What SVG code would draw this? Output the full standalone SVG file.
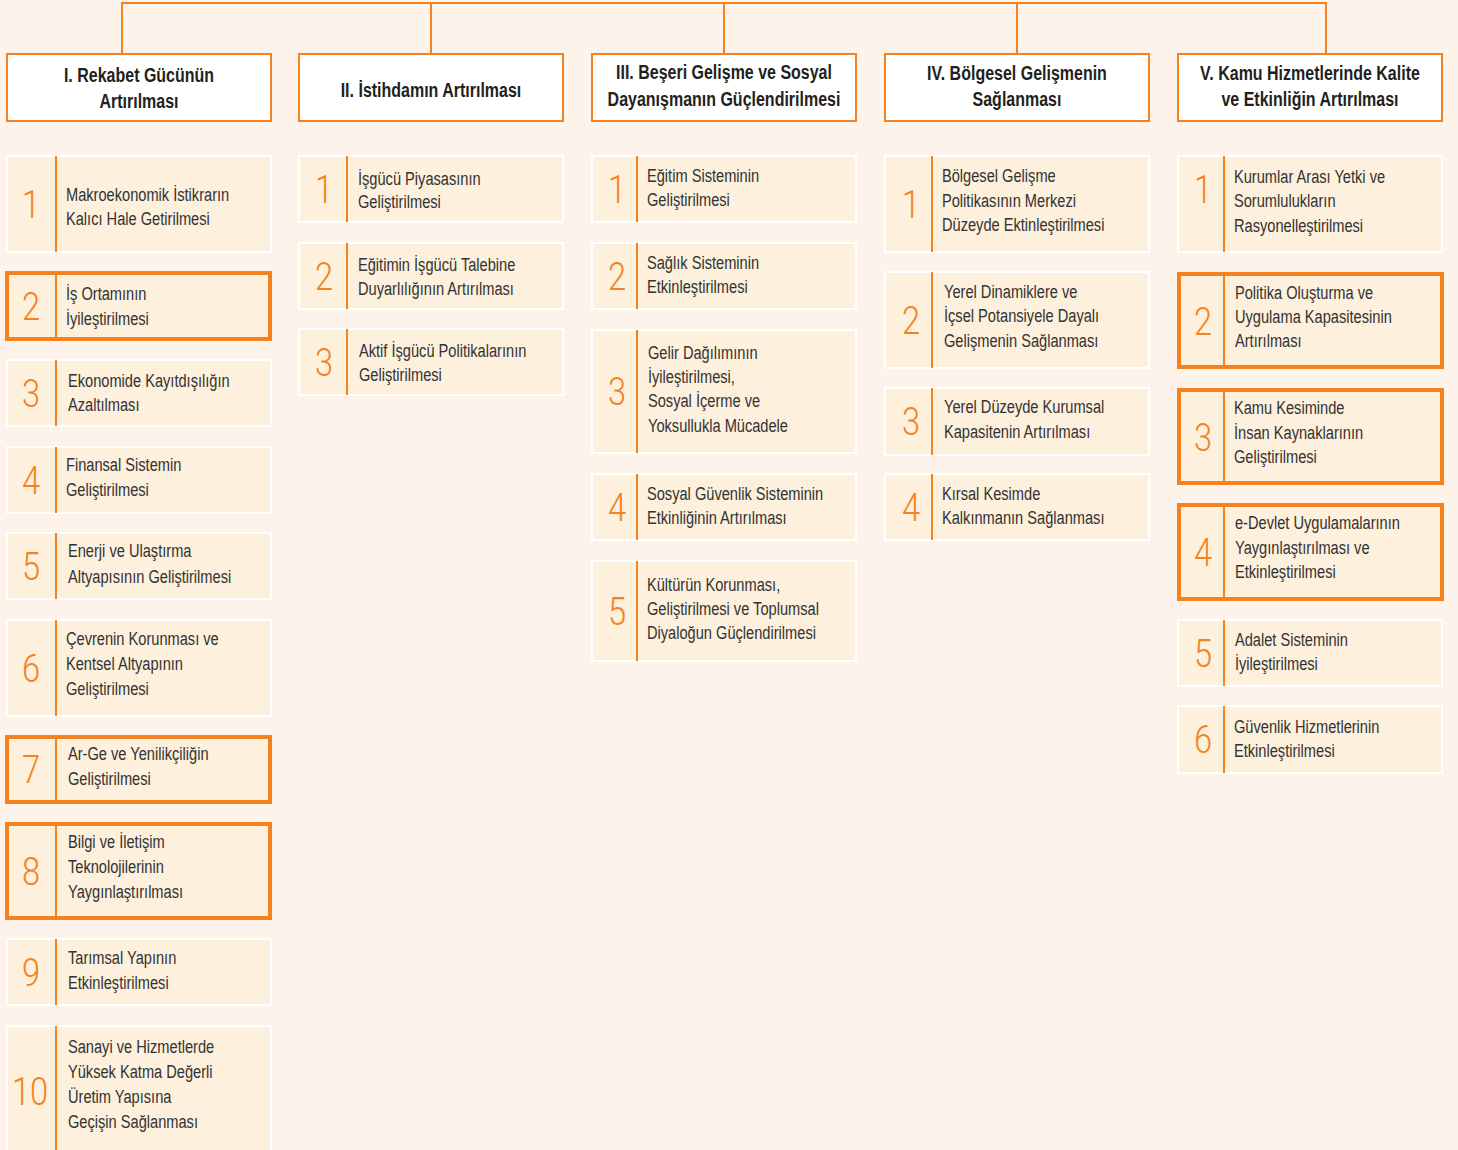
<svg xmlns="http://www.w3.org/2000/svg" width="1458" height="1150" viewBox="0 0 1458 1150">
<style>
.bg{fill:#FDF3EA}
.hdr rect{fill:#fff;stroke:#F58220;stroke-width:2}
.hdr text{font-family:"Liberation Sans",Arial,sans-serif;font-weight:bold;font-size:19.5px;fill:#231F20;text-anchor:middle;transform-box:fill-box;transform-origin:50% 50%;transform:scaleX(0.82)}
.item rect{fill:#FDF0DC;stroke:#fff;stroke-width:2}
.item.hl rect{stroke:#F58220;stroke-width:4}
.item line{stroke:#F58220;stroke-width:2}
.num{font-family:"Roboto","Liberation Sans",sans-serif;font-weight:300;font-size:38px;fill:#F58220;text-anchor:middle;transform-box:fill-box;transform-origin:50% 50%;transform:scaleX(0.86)}
.txt{font-family:"Liberation Sans",Arial,sans-serif;font-size:19px;fill:#333;transform-box:fill-box;transform-origin:0 50%;transform:scaleX(0.77)}
.conn{fill:none;stroke:#F58220;stroke-width:2}
</style>
<rect class="bg" x="0" y="0" width="1458" height="1150"/>
<g id="connectors">
<path class="conn" d="M122,54 V3 H1326 V54"/>
<path class="conn" d="M431,3 V54"/>
<path class="conn" d="M724,3 V54"/>
<path class="conn" d="M1017,3 V54"/>
</g>
<g id="h1" class="hdr"><rect x="7" y="54" width="264" height="67"/><text x="139" y="82">I. Rekabet Gücünün</text><text x="139" y="108">Artırılması</text></g>
<g id="h2" class="hdr"><rect x="299" y="54" width="264" height="67"/><text x="431" y="97">II. İstihdamın Artırılması</text></g>
<g id="h3" class="hdr"><rect x="592" y="54" width="264" height="67"/><text x="724" y="79">III. Beşeri Gelişme ve Sosyal</text><text x="724" y="106">Dayanışmanın Güçlendirilmesi</text></g>
<g id="h4" class="hdr"><rect x="885" y="54" width="264" height="67"/><text x="1017" y="80">IV. Bölgesel Gelişmenin</text><text x="1017" y="106">Sağlanması</text></g>
<g id="h5" class="hdr"><rect x="1178" y="54" width="264" height="67"/><text x="1310" y="80">V. Kamu Hizmetlerinde Kalite</text><text x="1310" y="106">ve Etkinliğin Artırılması</text></g>

<!-- Column 1 -->
<g id="c1i1" class="item"><rect x="7" y="156" width="264" height="96"/><line x1="56" y1="156" x2="56" y2="252"/><text class="num" x="31" y="218">1</text><text class="txt" x="66" y="201">Makroekonomik İstikrarın</text><text class="txt" x="66" y="225">Kalıcı Hale Getirilmesi</text></g>
<g id="c1i2" class="item hl"><rect x="7" y="273" width="263" height="66"/><line x1="56" y1="273" x2="56" y2="339"/><text class="num" x="31" y="320">2</text><text class="txt" x="66" y="300">İş Ortamının</text><text class="txt" x="66" y="325">İyileştirilmesi</text></g>
<g id="c1i3" class="item"><rect x="7" y="360" width="264" height="66"/><line x1="56" y1="360" x2="56" y2="426"/><text class="num" x="31" y="407">3</text><text class="txt" x="68" y="387">Ekonomide Kayıtdışılığın</text><text class="txt" x="68" y="411">Azaltılması</text></g>
<g id="c1i4" class="item"><rect x="7" y="447" width="264" height="66"/><line x1="56" y1="447" x2="56" y2="513"/><text class="num" x="31" y="494">4</text><text class="txt" x="66" y="471">Finansal Sistemin</text><text class="txt" x="66" y="496">Geliştirilmesi</text></g>
<g id="c1i5" class="item"><rect x="7" y="533" width="264" height="66"/><line x1="56" y1="533" x2="56" y2="599"/><text class="num" x="31" y="580">5</text><text class="txt" x="68" y="557">Enerji ve Ulaştırma</text><text class="txt" x="68" y="583">Altyapısının Geliştirilmesi</text></g>
<g id="c1i6" class="item"><rect x="7" y="620" width="264" height="96"/><line x1="56" y1="620" x2="56" y2="716"/><text class="num" x="31" y="682">6</text><text class="txt" x="66" y="645">Çevrenin Korunması ve</text><text class="txt" x="66" y="670">Kentsel Altyapının</text><text class="txt" x="66" y="695">Geliştirilmesi</text></g>
<g id="c1i7" class="item hl"><rect x="7" y="737" width="263" height="65"/><line x1="56" y1="737" x2="56" y2="802"/><text class="num" x="31" y="783">7</text><text class="txt" x="68" y="760">Ar-Ge ve Yenilikçiliğin</text><text class="txt" x="68" y="785">Geliştirilmesi</text></g>
<g id="c1i8" class="item hl"><rect x="7" y="824" width="263" height="94"/><line x1="56" y1="824" x2="56" y2="918"/><text class="num" x="31" y="885">8</text><text class="txt" x="68" y="848">Bilgi ve İletişim</text><text class="txt" x="68" y="873">Teknolojilerinin</text><text class="txt" x="68" y="898">Yaygınlaştırılması</text></g>
<g id="c1i9" class="item"><rect x="7" y="939" width="264" height="66"/><line x1="56" y1="939" x2="56" y2="1005"/><text class="num" x="31" y="986">9</text><text class="txt" x="68" y="964">Tarımsal Yapının</text><text class="txt" x="68" y="989">Etkinleştirilmesi</text></g>
<g id="c1i10" class="item"><rect x="7" y="1026" width="264" height="130"/><line x1="56" y1="1026" x2="56" y2="1150"/><text class="num" x="30" y="1105">10</text><text class="txt" x="68" y="1053">Sanayi ve Hizmetlerde</text><text class="txt" x="68" y="1078">Yüksek Katma Değerli</text><text class="txt" x="68" y="1103">Üretim Yapısına</text><text class="txt" x="68" y="1128">Geçişin Sağlanması</text></g>

<!-- Column 2 -->
<g id="c2i1" class="item"><rect x="299" y="156" width="264" height="66"/><line x1="347" y1="156" x2="347" y2="222"/><text class="num" x="324" y="203">1</text><text class="txt" x="358" y="185">İşgücü Piyasasının</text><text class="txt" x="358" y="208">Geliştirilmesi</text></g>
<g id="c2i2" class="item"><rect x="299" y="243" width="264" height="66"/><line x1="347" y1="243" x2="347" y2="309"/><text class="num" x="324" y="290">2</text><text class="txt" x="358" y="271">Eğitimin İşgücü Talebine</text><text class="txt" x="358" y="295">Duyarlılığının Artırılması</text></g>
<g id="c2i3" class="item"><rect x="299" y="329" width="264" height="66"/><line x1="347" y1="329" x2="347" y2="395"/><text class="num" x="324" y="376">3</text><text class="txt" x="359" y="357">Aktif İşgücü Politikalarının</text><text class="txt" x="359" y="381">Geliştirilmesi</text></g>

<!-- Column 3 -->
<g id="c3i1" class="item"><rect x="592" y="156" width="264" height="66"/><line x1="637" y1="156" x2="637" y2="222"/><text class="num" x="617" y="203">1</text><text class="txt" x="647" y="182">Eğitim Sisteminin</text><text class="txt" x="647" y="206">Geliştirilmesi</text></g>
<g id="c3i2" class="item"><rect x="592" y="243" width="264" height="66"/><line x1="637" y1="243" x2="637" y2="309"/><text class="num" x="617" y="290">2</text><text class="txt" x="647" y="269">Sağlık Sisteminin</text><text class="txt" x="647" y="293">Etkinleştirilmesi</text></g>
<g id="c3i3" class="item"><rect x="592" y="330" width="264" height="123"/><line x1="637" y1="330" x2="637" y2="453"/><text class="num" x="617" y="405">3</text><text class="txt" x="648" y="359">Gelir Dağılımının</text><text class="txt" x="648" y="383">İyileştirilmesi,</text><text class="txt" x="648" y="407">Sosyal İçerme ve</text><text class="txt" x="648" y="432">Yoksullukla Mücadele</text></g>
<g id="c3i4" class="item"><rect x="592" y="474" width="264" height="66"/><line x1="637" y1="474" x2="637" y2="540"/><text class="num" x="617" y="521">4</text><text class="txt" x="647" y="500">Sosyal Güvenlik Sisteminin</text><text class="txt" x="647" y="524">Etkinliğinin Artırılması</text></g>
<g id="c3i5" class="item"><rect x="592" y="561" width="264" height="100"/><line x1="637" y1="561" x2="637" y2="661"/><text class="num" x="617" y="625">5</text><text class="txt" x="647" y="591">Kültürün Korunması,</text><text class="txt" x="647" y="615">Geliştirilmesi ve Toplumsal</text><text class="txt" x="647" y="639">Diyaloğun Güçlendirilmesi</text></g>

<!-- Column 4 -->
<g id="c4i1" class="item"><rect x="885" y="156" width="264" height="96"/><line x1="932" y1="156" x2="932" y2="252"/><text class="num" x="911" y="218">1</text><text class="txt" x="942" y="182">Bölgesel Gelişme</text><text class="txt" x="942" y="207">Politikasının Merkezi</text><text class="txt" x="942" y="231">Düzeyde Ektinleştirilmesi</text></g>
<g id="c4i2" class="item"><rect x="885" y="272" width="264" height="96"/><line x1="932" y1="272" x2="932" y2="368"/><text class="num" x="911" y="334">2</text><text class="txt" x="944" y="298">Yerel Dinamiklere ve</text><text class="txt" x="944" y="322">İçsel Potansiyele Dayalı</text><text class="txt" x="944" y="347">Gelişmenin Sağlanması</text></g>
<g id="c4i3" class="item"><rect x="885" y="388" width="264" height="67"/><line x1="932" y1="388" x2="932" y2="455"/><text class="num" x="911" y="435">3</text><text class="txt" x="944" y="413">Yerel Düzeyde Kurumsal</text><text class="txt" x="944" y="438">Kapasitenin Artırılması</text></g>
<g id="c4i4" class="item"><rect x="885" y="474" width="264" height="66"/><line x1="932" y1="474" x2="932" y2="540"/><text class="num" x="911" y="521">4</text><text class="txt" x="942" y="500">Kırsal Kesimde</text><text class="txt" x="942" y="524">Kalkınmanın Sağlanması</text></g>

<!-- Column 5 -->
<g id="c5i1" class="item"><rect x="1178" y="156" width="264" height="96"/><line x1="1224" y1="156" x2="1224" y2="252"/><text class="num" x="1203" y="203">1</text><text class="txt" x="1234" y="183">Kurumlar Arası Yetki ve</text><text class="txt" x="1234" y="207">Sorumlulukların</text><text class="txt" x="1234" y="232">Rasyonelleştirilmesi</text></g>
<g id="c5i2" class="item hl"><rect x="1179" y="274" width="263" height="93"/><line x1="1224" y1="274" x2="1224" y2="367"/><text class="num" x="1203" y="335">2</text><text class="txt" x="1235" y="299">Politika Oluşturma ve</text><text class="txt" x="1235" y="323">Uygulama Kapasitesinin</text><text class="txt" x="1235" y="347">Artırılması</text></g>
<g id="c5i3" class="item hl"><rect x="1179" y="390" width="263" height="93"/><line x1="1224" y1="390" x2="1224" y2="483"/><text class="num" x="1203" y="451">3</text><text class="txt" x="1234" y="414">Kamu Kesiminde</text><text class="txt" x="1234" y="439">İnsan Kaynaklarının</text><text class="txt" x="1234" y="463">Geliştirilmesi</text></g>
<g id="c5i4" class="item hl"><rect x="1179" y="505" width="263" height="94"/><line x1="1224" y1="505" x2="1224" y2="599"/><text class="num" x="1203" y="566">4</text><text class="txt" x="1235" y="529">e-Devlet Uygulamalarının</text><text class="txt" x="1235" y="554">Yaygınlaştırılması ve</text><text class="txt" x="1235" y="578">Etkinleştirilmesi</text></g>
<g id="c5i5" class="item"><rect x="1178" y="620" width="264" height="66"/><line x1="1224" y1="620" x2="1224" y2="686"/><text class="num" x="1203" y="667">5</text><text class="txt" x="1235" y="646">Adalet Sisteminin</text><text class="txt" x="1235" y="670">İyileştirilmesi</text></g>
<g id="c5i6" class="item"><rect x="1178" y="706" width="264" height="67"/><line x1="1224" y1="706" x2="1224" y2="773"/><text class="num" x="1203" y="753">6</text><text class="txt" x="1234" y="733">Güvenlik Hizmetlerinin</text><text class="txt" x="1234" y="757">Etkinleştirilmesi</text></g>
</svg>
